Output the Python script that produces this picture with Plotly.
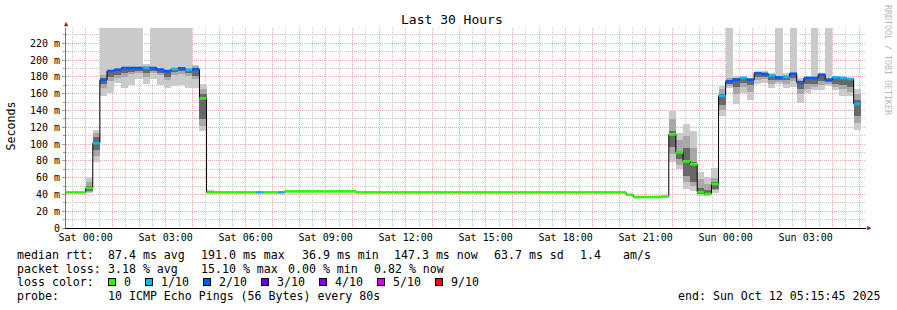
import pandas as pd
import plotly.graph_objects as go

# ---------------- data ----------------
BUCKET_START = "2025-10-10 23:12:00"   # first 16-minute consolidation bucket
BUCKET_MIN = 16
X_START = "2025-10-10 23:15:45"
X_END = "2025-10-12 05:15:45"

# median rtt (ms) per 16-minute bucket, Fri 23:12 .. Sun 05:04
median_ms = [
    42.4, 42.4, 42.4,
    47.6, 101.0, 176.2, 186.9, 188.5, 190.5, 190.5, 190.5, 190.5, 190.5,
    188.5, 186.5, 189.3, 190.1, 188.1, 189.0, 154.3,
    42.4, 42.4, 42.4, 42.4, 42.4, 42.4, 42.4, 42.4, 42.4, 42.4, 42.4,
    43.6, 43.6, 43.6, 43.6, 43.6, 43.6, 43.6, 43.6, 43.6, 43.6,
    42.4, 42.4, 42.4, 42.4, 42.4, 42.4, 42.4, 42.4, 42.4, 42.4,
    42.4, 42.4, 42.4, 42.4, 42.4, 42.4, 42.4, 42.4, 42.4, 42.4,
    42.4, 42.4, 42.4, 42.4, 42.4, 42.4, 42.4, 42.4, 42.4, 42.4,
    42.4, 42.4, 42.4, 42.4, 42.4, 42.4, 42.4, 42.4,
    39.6, 36.9, 36.9, 36.9, 36.9, 37.5,
    111.5, 90.0, 79.3, 76.0, 42.8, 40.5, 52.4,
    157.5, 174.5, 176.5, 178.6, 176.5, 184.5, 183.3, 181.3, 179.3, 179.7,
    183.7, 173.3, 178.6, 178.6, 182.5, 176.5, 179.3, 178.6, 177.4, 147.6,
]

# loss level per bucket (index into LOSS_LABELS)
loss_level = [
    0, 0, 0,
    0, 1, 2, 2, 2, 2, 2, 2, 1, 2,
    2, 2, 1, 2, 1, 2, 0,
    0, 0, 0, 0, 0, 0, 0, 1, 0, 0, 1,
    0, 0, 0, 0, 0, 0, 0, 0, 0, 0,
    0, 0, 0, 0, 0, 0, 0, 0, 0, 0,
    0, 0, 0, 0, 0, 0, 0, 0, 0, 0,
    0, 0, 0, 0, 0, 0, 0, 0, 0, 0,
    0, 0, 0, 0, 0, 0, 0, 0,
    0, 0, 0, 0, 0, 0,
    0, 0, 0, 0, 0, 0, 0,
    1, 2, 2, 1, 2, 2, 2, 1, 2, 1,
    2, 2, 2, 2, 2, 2, 1, 1, 1, 1,
]

LOSS_LABELS = ["0", "1/10", "2/10", "3/10", "4/10", "5/10", "9/10"]
LOSS_COLORS = ["#26ff00", "#00b8ff", "#0059ff", "#5e00ff", "#7e00ff", "#dd00ff", "#ff0000"]

# smoke (ping spread) per bucket, ms; bucket number counted from Sat 00:00
smoke_bucket = [0, 1, 2, 3, 4, 5, 6, 7, 8, 9, 10, 11, 12, 13, 14, 15, 16, 17,
                82, 83, 84, 85, 86, 87, 88, 89, 90, 91, 92, 93, 94, 95, 96, 97, 98,
                99, 100, 101, 102, 103, 104, 105, 106, 107, 108]
smoke_lo = [42, 78, 157, 161, 173, 167, 170, 177, 171, 177, 170, 167, 169, 170, 167, 167, 115, 42,
            79, 70, 46, 44, 38, 38, 42, 133, 167, 148, 161, 152, 171, 173, 167, 171, 167,
            168, 149, 161, 164, 164, 169, 164, 157, 157, 117]
smoke_mlo = [43, 86, 167, 175, 178, 180, 183, 184, 180, 184, 182, 176, 182, 183, 181, 177, 122, 42,
             88, 75, 55, 50, 40, 39, 45, 140, 169, 160, 168, 162, 176, 177, 172, 174, 172,
             175, 160, 166, 168, 170, 172, 168, 165, 162, 125]
smoke_dlo = [44, 93, 172, 180, 182, 185, 186, 187, 184, 187, 185, 180, 186, 187, 185, 181, 130, 42,
             97, 82, 62, 55, 41, 40, 47, 147, 171, 168, 173, 170, 180, 180, 176, 176, 176,
             179, 166, 172, 172, 175, 174, 172, 170, 168, 133]
smoke_dhi = [50, 108, 178, 186, 187, 190, 190, 190, 190, 190, 189, 187, 190, 190, 189, 191, 160, 43,
             115, 92, 95, 78, 48, 45, 55, 160, 176, 178, 179, 177, 185, 185, 182, 180, 181,
             184, 175, 179, 179, 182, 177, 179, 178, 177, 152]
smoke_mhi = [55, 113, 182, 188, 188, 191, 191, 192, 193, 191, 190, 189, 191, 191, 190, 193, 166, 44,
             130, 105, 110, 95, 58, 52, 60, 165, 178, 179, 180, 178, 186, 186, 183, 181, 182,
             185, 176, 180, 180, 183, 178, 180, 179, 178, 160]
smoke_hi = [61, 117, 300, 300, 300, 300, 300, 300, 195, 300, 300, 300, 300, 300, 300, 194, 171, 45,
            139, 113, 124, 115, 67, 61, 71, 169, 300, 181, 181, 179, 186, 187, 184, 300, 184,
            300, 178, 181, 300, 184, 300, 181, 180, 179, 165]

y_tick_vals = [0, 20, 40, 60, 80, 100, 120, 140, 160, 180, 200, 220]
y_tick_text = ["0", "20 m", "40 m", "60 m", "80 m", "100 m", "120 m", "140 m",
               "160 m", "180 m", "200 m", "220 m"]
x_tick_text = {"2025-10-11 00:00": "Sat 00:00", "2025-10-11 03:00": "Sat 03:00",
               "2025-10-11 06:00": "Sat 06:00", "2025-10-11 09:00": "Sat 09:00",
               "2025-10-11 12:00": "Sat 12:00", "2025-10-11 15:00": "Sat 15:00",
               "2025-10-11 18:00": "Sat 18:00", "2025-10-11 21:00": "Sat 21:00",
               "2025-10-12 00:00": "Sun 00:00", "2025-10-12 03:00": "Sun 03:00"}

title_text = "Last 30 Hours"
stats_rtt = ["median rtt:", "87.4 ms avg", "191.0 ms max", "36.9 ms min",
             "147.3 ms now", "63.7 ms sd", "1.4", "am/s"]
stats_loss = ["packet loss:", "3.18 % avg", "15.10 % max", "0.00 % min", "0.82 % now"]
probe_text = ["probe:", "10 ICMP Echo Pings (56 Bytes) every 80s"]
end_text = "end: Sun Oct 12 05:15:45 2025"

# ---------------- figure ----------------
MONO = "DejaVu Sans Mono"
PL, PT, PW, PH = 66, 28, 800, 200   # plot area in pixels


def px(x):
    return (x - PL) / PW


def py(y):
    return (PT + PH - y) / PH


step = pd.Timedelta(minutes=BUCKET_MIN)
times = pd.date_range(BUCKET_START, periods=len(median_ms), freq=f"{BUCKET_MIN}min")
first_bucket = pd.Timestamp("2025-10-11 00:00")
offset_idx = int((first_bucket - times[0]) / step)
step_ms = step.total_seconds() * 1000

fig = go.Figure()

sm_x = [times[k + offset_idx] for k in smoke_bucket]
for lo, hi, col in [(smoke_lo, smoke_hi, "#cacaca"),
                    (smoke_mlo, smoke_mhi, "#a8a8a8"),
                    (smoke_dlo, smoke_dhi, "#686868")]:
    fig.add_trace(go.Bar(
        x=sm_x, y=[h - l for l, h in zip(lo, hi)], base=lo,
        width=step_ms, offset=0,
        marker=dict(color=col, line=dict(width=0)),
        hoverinfo="skip"))

# black median step line
fig.add_trace(go.Scatter(
    x=list(times) + [times[-1] + step], y=median_ms + [median_ms[-1]],
    mode="lines", line=dict(color="black", width=1, shape="hv"),
    hoverinfo="skip"))

# coloured median segments per loss level
for lvl, col in enumerate(LOSS_COLORS):
    xs, ys = [], []
    for t, m, l in zip(times, median_ms, loss_level):
        if l == lvl:
            xs += [t, t + step, None]
            ys += [m, m, None]
    if xs:
        fig.add_trace(go.Scatter(x=xs, y=ys, mode="lines",
                                 line=dict(color=col, width=2.6),
                                 hoverinfo="skip"))

hours = pd.date_range("2025-10-11 00:00", "2025-10-12 05:00", freq="1h")
x_vals = list(hours)
x_text = [x_tick_text.get(h.strftime("%Y-%m-%d %H:%M"), "") for h in hours]

RED = "#f2a6a6"
GREY = "#c8c8c8"
DASH = "1px,1px"

fig.update_layout(
    width=897, height=310,
    margin=dict(l=PL, r=897 - PL - PW, t=PT, b=310 - PT - PH),
    paper_bgcolor="white", plot_bgcolor="white",
    showlegend=False, barmode="overlay", bargap=0,
    font=dict(family=MONO, color="black"),
    xaxis=dict(
        type="date", range=[X_START, X_END],
        tickmode="array", tickvals=x_vals, ticktext=x_text,
        showgrid=True, gridcolor=RED, griddash=DASH, gridwidth=1,
        minor=dict(tickmode="linear", tick0="2025-10-11 00:00", dtick=1800000,
                   showgrid=True, gridcolor=GREY, griddash=DASH, gridwidth=1),
        showline=True, linecolor="black", linewidth=1,
        ticks="", zeroline=False,
        tickfont=dict(family=MONO, size=10, color="black"),
    ),
    yaxis=dict(
        range=[0, 238.1],
        tickmode="array", tickvals=y_tick_vals, ticktext=y_tick_text,
        showgrid=True, gridcolor=RED, griddash=DASH, gridwidth=1,
        minor=dict(tickmode="linear", tick0=0, dtick=10,
                   showgrid=True, gridcolor=GREY, griddash=DASH, gridwidth=1,
                   ticks="outside", ticklen=2, tickcolor="#999"),
        ticks="outside", ticklen=3, tickcolor="#999",
        showline=True, linecolor="#777", linewidth=1,
        zeroline=False,
        tickfont=dict(family=MONO, size=10, color="black"),
    ),
)

ann = []


def text_at(x, y, s, size=11.6, anchor="left", color="black", angle=0):
    ann.append(dict(text=s, xref="paper", yref="paper", x=px(x), y=py(y),
                    xanchor=anchor, yanchor="middle", showarrow=False,
                    textangle=angle, borderpad=0,
                    font=dict(family=MONO, size=size, color=color)))


text_at(452, 20, title_text, size=13, anchor="center")
text_at(10.5, 126, "Seconds", size=11.6, anchor="center", angle=-90)
text_at(888, 60, "RRDTOOL / TOBI OETIKER", size=8.3, anchor="center",
        color="#b8b8b8", angle=90)

for x, s in zip([16, 107.3, 200, 300.7, 393.3, 493.3, 579.3, 621.7], stats_rtt):
    text_at(x, 255, s)
for x, s in zip([16, 107.3, 200, 286.7, 372.7], stats_loss):
    text_at(x, 268.5, s)
text_at(16, 282, "loss color:")
sq_x = [112, 149.3, 207, 265, 323, 380.7, 439.2]
lab_x = [123, 160, 218, 276, 334, 392, 450]
for sx, lx, lab, col in zip(sq_x, lab_x, LOSS_LABELS, LOSS_COLORS):
    ann.append(dict(text=" ", xref="paper", yref="paper", x=px(sx), y=py(281.5),
                    xanchor="center", yanchor="middle", showarrow=False,
                    width=6, height=6, bgcolor=col, bordercolor="black",
                    borderwidth=1, borderpad=0, font=dict(size=4)))
    text_at(lx, 282, lab)
text_at(16, 296, probe_text[0])
text_at(107.3, 296, probe_text[1])
text_at(881, 296, end_text, anchor="right")

# axis arrows
text_at(66.5, 24, "▲", size=7, anchor="center", color="#8b1c1c")
text_at(870, 228, "▶", size=7, anchor="center", color="#8b1c1c")

fig.update_layout(annotations=ann)
fig.write_html("out.html")
